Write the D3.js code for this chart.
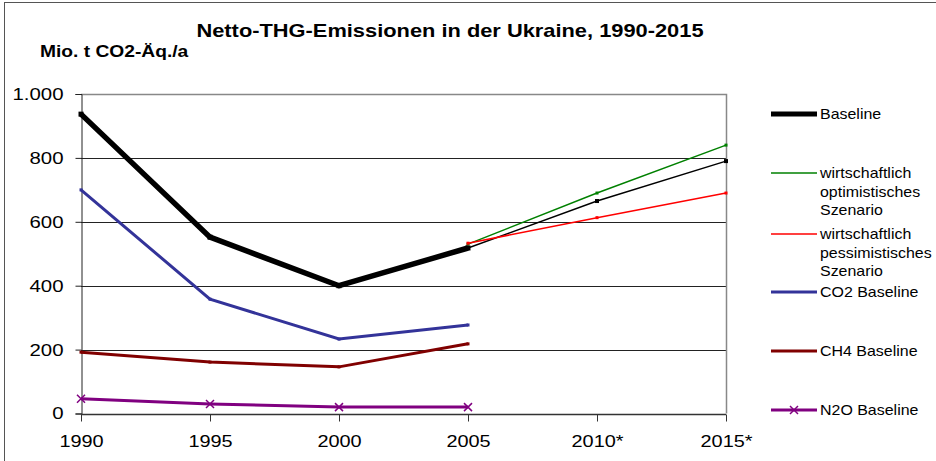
<!DOCTYPE html>
<html>
<head>
<meta charset="utf-8">
<script src="https://cdn.jsdelivr.net/npm/d3@7"></script>
<style>
  body { margin: 0; background: #fff; }
  text { font-family: Arial, "Liberation Sans", sans-serif; }
</style>
</head>
<body>
<div id="chart"></div>
<script>
// data
var years = ["1990", "1995", "2000", "2005", "2010*", "2015*"];
var yTicks = [0, 200, 400, 600, 800, 1000];

var baseline    = [937, 552, 400, 518, 665, 790];
var optimistic  = [null, null, null, 530, 690, 840];
var pessimistic = [null, null, null, 533, 613, 690];
var co2         = [700, 358, 233, 277, null, null];
var ch4         = [192, 161, 146, 218, null, null];
var n2o         = [46, 30, 20, 20, null, null];

var width = 936, height = 461;
var margin = {top: 94, right: 210, bottom: 48, left: 81};

var svg = d3.select("#chart").append("svg")
    .attr("width", width)
    .attr("height", height);

// the original text is a bit wider than Arial, stretch it
function stretch(sel, k) {
  sel.each(function() {
    var w = this.getComputedTextLength();
    d3.select(this).attr("textLength", w * k).attr("lengthAdjust", "spacingAndGlyphs");
  });
}

// outer frame
svg.append("rect")
    .attr("x", 4.5).attr("y", 2.5)
    .attr("width", width + 10).attr("height", height + 10)
    .attr("fill", "none").attr("stroke", "#555").attr("stroke-width", 1);

var x = d3.scalePoint()
    .domain(years)
    .range([margin.left, 726]);

var y = d3.scaleLinear()
    .domain([0, 1000])
    .range([413.5, margin.top]);

// gridlines
svg.append("g")
  .selectAll("line")
  .data(yTicks.filter(d => d > 0 && d < 1000))
  .enter().append("line")
    .attr("x1", x("1990")).attr("x2", x("2015*"))
    .attr("y1", d => Math.round(y(d)) + 0.5).attr("y2", d => Math.round(y(d)) + 0.5)
    .attr("stroke", "#222").attr("stroke-width", 1);

// plot border top / right
svg.append("path")
    .attr("d", `M${x("1990")},${Math.round(y(1000)) + 0.5}H${x("2015*") + 0.5}V${y(0)}`)
    .attr("fill", "none").attr("stroke", "#888").attr("stroke-width", 1.5);

// y axis
var yAxis = d3.axisLeft(y)
    .tickValues(yTicks)
    .tickSize(6)
    .tickPadding(12)
    .tickFormat(d => d === 1000 ? "1.000" : d);

svg.append("g")
    .attr("transform", `translate(${x("1990") + 0.5},0)`)
    .call(yAxis)
    .call(g => g.selectAll("path, line").attr("stroke", "#222"))
    .call(g => g.selectAll("text").attr("font-size", 17).attr("fill", "#000")
        .attr("font-family", "Arial, 'Liberation Sans', sans-serif").call(stretch, 1.2));

// x axis
var xAxis = d3.axisBottom(x)
    .tickSize(7)
    .tickPadding(13);

svg.append("g")
    .attr("transform", `translate(0,${Math.round(y(0)) + 0.5})`)
    .call(xAxis)
    .call(g => g.select(".domain").attr("d", `M${x("1990")},0H${x("2015*")}`).attr("stroke", "#333").attr("stroke-width", 1.5))
    .call(g => g.selectAll("line").attr("stroke", "#333"))
    .call(g => g.selectAll("text").attr("font-size", 17).attr("fill", "#000")
        .attr("font-family", "Arial, 'Liberation Sans', sans-serif").call(stretch, 1.17));

var line = d3.line()
    .defined(d => d != null)
    .x((d, i) => x(years[i]))
    .y(d => y(d));

function series(values, colour, w, marker) {
  svg.append("path")
      .datum(values)
      .attr("d", line)
      .attr("fill", "none")
      .attr("stroke", colour)
      .attr("stroke-width", w)
      .attr("stroke-linejoin", "miter");
  var pts = values.map((v, i) => ({v: v, i: i})).filter(d => d.v != null);
  if (marker === "x") {
    svg.selectAll(null).data(pts).enter().append("path")
        .attr("d", d => { var cx = x(years[d.i]), cy = y(d.v);
          return `M${cx-4},${cy-4}L${cx+4},${cy+4}M${cx-4},${cy+4}L${cx+4},${cy-4}`; })
        .attr("stroke", colour).attr("stroke-width", 1.5);
  } else {
    svg.selectAll(null).data(pts).enter().append("rect")
        .attr("x", d => x(years[d.i]) - marker / 2)
        .attr("y", d => y(d.v) - marker / 2)
        .attr("width", marker).attr("height", marker)
        .attr("fill", colour);
  }
}

// baseline: thick for history, thin for projection
var baseHist = baseline.map((v, i) => i <= 3 ? v : null);
var baseProj = baseline.map((v, i) => i >= 3 ? v : null);
series(baseProj, "#000", 1.5, 4);
series(optimistic, "#008000", 1.5, 3);
series(pessimistic, "#ff0000", 1.5, 3);
series(co2, "#333399", 3, 3);
series(ch4, "#800000", 3, 3);
series(n2o, "#800080", 3, "x");
series(baseHist, "#000", 5.5, 5);

// title
svg.append("text")
    .attr("x", 450).attr("y", 37)
    .attr("text-anchor", "middle")
    .attr("font-size", 18.5).attr("font-weight", "bold")
    .text("Netto-THG-Emissionen in der Ukraine, 1990-2015")
    .call(stretch, 1.18);

svg.append("text")
    .attr("x", 40).attr("y", 57)
    .attr("font-size", 16).attr("font-weight", "bold")
    .text("Mio. t CO2-Äq./a")
    .call(stretch, 1.2);

// legend
var legend = [
  {lines: ["Baseline"], colour: "#000", w: 5, y: 114},
  {lines: ["wirtschaftlich", "optimistisches", "Szenario"], colour: "#008000", w: 1.5, y: 173},
  {lines: ["wirtschaftlich", "pessimistisches", "Szenario"], colour: "#ff0000", w: 1.5, y: 234},
  {lines: ["CO2 Baseline"], colour: "#333399", w: 3, y: 292},
  {lines: ["CH4 Baseline"], colour: "#800000", w: 3, y: 351},
  {lines: ["N2O Baseline"], colour: "#800080", w: 3, y: 410, x: true}
];

var lg = svg.append("g").selectAll("g").data(legend).enter().append("g");
lg.append("line")
    .attr("x1", 771).attr("x2", 817)
    .attr("y1", d => d.y).attr("y2", d => d.y)
    .attr("stroke", d => d.colour).attr("stroke-width", d => d.w);
lg.filter(d => d.x).append("path")
    .attr("d", d => `M790,${d.y-4}L798,${d.y+4}M790,${d.y+4}L798,${d.y-4}`)
    .attr("stroke", d => d.colour).attr("stroke-width", 1.5);
lg.append("text")
    .attr("x", 820)
    .attr("y", d => d.y + 5)
    .attr("font-size", 14.5)
  .selectAll("tspan").data(d => d.lines).enter().append("tspan")
    .attr("x", 820)
    .attr("dy", (d, i) => i === 0 ? 0 : 18.5)
    .text(d => d)
    .call(stretch, 1.1);
</script>
</body>
</html>
